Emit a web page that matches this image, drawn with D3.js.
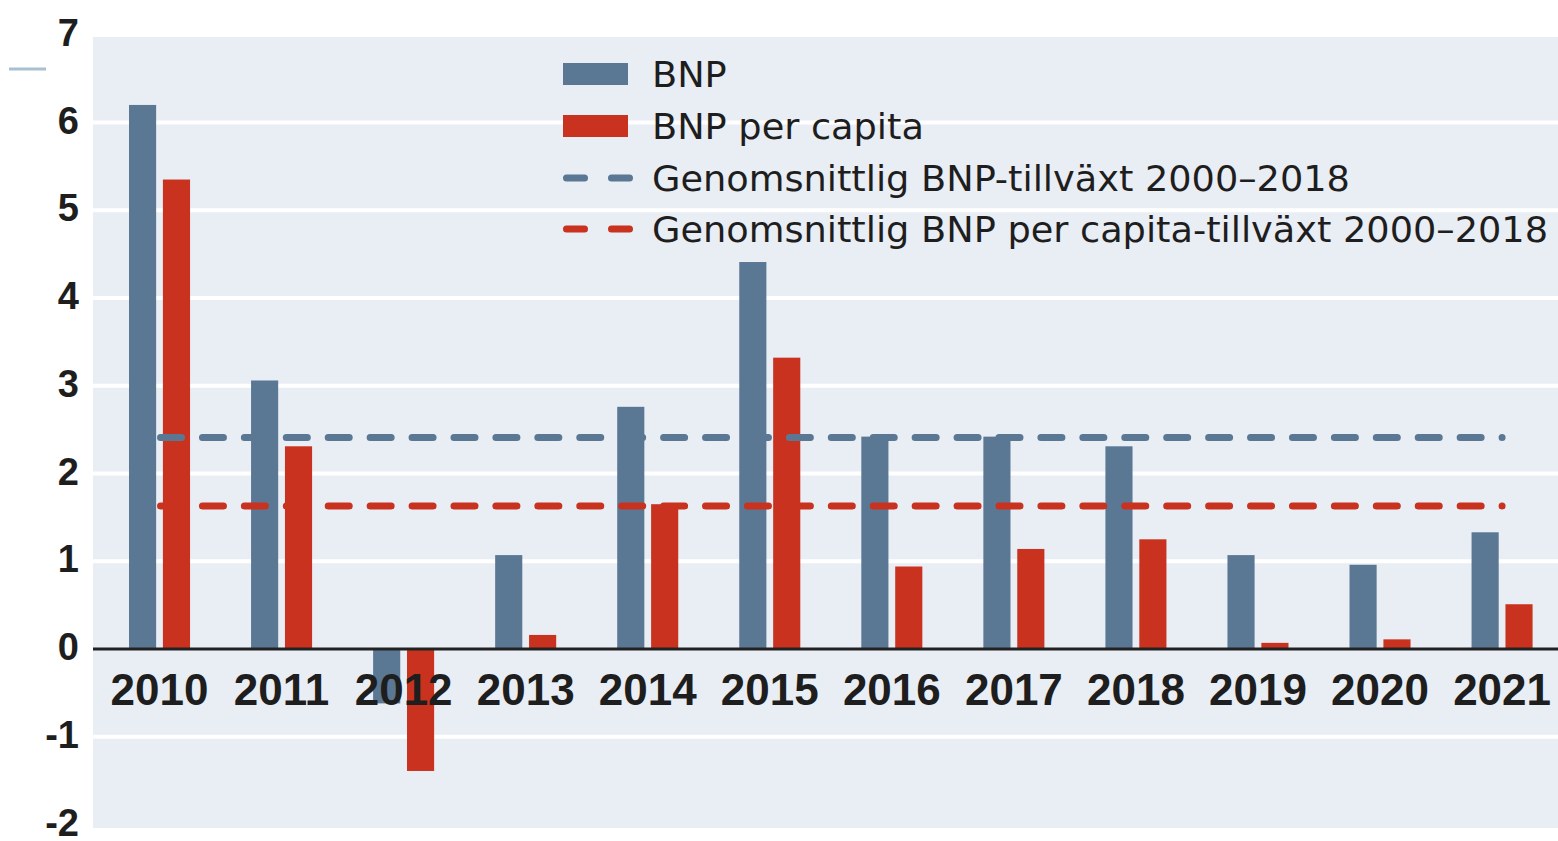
<!DOCTYPE html>
<html>
<head>
<meta charset="utf-8">
<script src="https://cdn.jsdelivr.net/npm/d3@7"></script>
<style>
  html, body { margin: 0; padding: 0; background: #ffffff; }
  svg { display: block; }
</style>
</head>
<body>
<svg id="chart" width="1558" height="841"></svg>
<script>
// ---- Data ----
const years = ["2010","2011","2012","2013","2014","2015","2016","2017","2018","2019","2020","2021"];
const bnp = [6.2, 3.06, -0.62, 1.07, 2.76, 4.41, 2.42, 2.42, 2.31, 1.07, 0.96, 1.33];
const bnpPerCapita = [5.35, 2.31, -1.39, 0.16, 1.65, 3.32, 0.94, 1.14, 1.25, 0.07, 0.11, 0.51];
const avgBnp = 2.41;
const avgBnpPerCapita = 1.63;
const yTicks = [-2, -1, 0, 1, 2, 3, 4, 5, 6, 7];
const seriesNames = ["BNP", "BNP per capita"];
const legendLabels = ["BNP", "BNP per capita", "Genomsnittlig BNP-tillväxt 2000–2018", "Genomsnittlig BNP per capita-tillväxt 2000–2018"];

// ---- Styles ----
const blue = "#5a7794";
const red = "#c8321e";
const bg = "#e9edf4";
const textColor = "#1e1e1e";

const svg = d3.select("#chart");

const y = d3.scaleLinear().domain([0, 7]).range([649, 34.75]);
const x = d3.scaleBand().domain(years).range([98.5, 1563.1]).paddingInner(0.5).paddingOuter(0.25);
const xs = d3.scaleBand().domain(seriesNames).range([0, x.bandwidth()]).paddingInner(0.2);

// small decorative mark top-left
svg.append("line").attr("x1", 9).attr("x2", 46).attr("y1", 69).attr("y2", 69)
  .attr("stroke", "#a9c0d0").attr("stroke-width", 3);

// plot background
svg.append("rect").attr("x", 93).attr("y", 37).attr("width", 1558 - 93).attr("height", 828 - 37).attr("fill", bg);

// gridlines
svg.append("g").selectAll("line")
  .data(yTicks.filter(d => d > -2 && d < 7 && d !== 0))
  .join("line")
  .attr("x1", 93).attr("x2", 1558)
  .attr("y1", d => y(d)).attr("y2", d => y(d))
  .attr("stroke", "#ffffff").attr("stroke-width", 4);

// bars
const rows = years.map((yr, i) => ({ year: yr, values: [
  { name: seriesNames[0], v: bnp[i], c: blue },
  { name: seriesNames[1], v: bnpPerCapita[i], c: red }
]}));

const groups = svg.append("g").selectAll("g").data(rows).join("g")
  .attr("transform", d => `translate(${x(d.year)},0)`);
groups.selectAll("rect").data(d => d.values).join("rect")
  .attr("x", d => xs(d.name))
  .attr("width", xs.bandwidth())
  .attr("y", d => y(Math.max(0, d.v)))
  .attr("height", d => Math.abs(y(d.v) - y(0)))
  .attr("fill", d => d.c);

// average dashed lines (pattern ends on a dot at the last group's centre)
const xStart = x(years[0]) + x.bandwidth() / 2 + 1;
const xEnd = x(years[years.length - 1]) + x.bandwidth() / 2;
const period = (xEnd - xStart) / 32;
[[avgBnp, blue], [avgBnpPerCapita, red]].forEach(([v, c]) => {
  svg.append("line")
    .attr("x1", xStart).attr("x2", xEnd + 0.01)
    .attr("y1", y(v)).attr("y2", y(v))
    .attr("stroke", c).attr("stroke-width", 7)
    .attr("stroke-linecap", "round")
    .attr("stroke-dasharray", `21 ${period - 21}`);
});

// zero line
svg.append("line").attr("x1", 93).attr("x2", 1558).attr("y1", y(0)).attr("y2", y(0))
  .attr("stroke", "#222222").attr("stroke-width", 3);

// x axis labels
const xAxis = svg.append("g").attr("transform", "translate(0,705)")
  .call(d3.axisBottom(x).tickSize(0).tickPadding(0));
xAxis.select(".domain").remove();
xAxis.selectAll("text")
  .attr("dy", 0).attr("y", 0)
  .attr("font-family", "'Liberation Sans', Arial, sans-serif")
  .attr("font-weight", "bold").attr("font-size", 44)
  .attr("fill", textColor);

// y axis labels
const yAxis = svg.append("g").attr("transform", "translate(79,0)")
  .call(d3.axisLeft(y).tickValues(yTicks).tickSize(0).tickPadding(0).tickFormat(d => String(d)));
yAxis.select(".domain").remove();
yAxis.selectAll("text")
  .attr("dy", "0.28em")
  .attr("font-family", "'Liberation Sans', Arial, sans-serif")
  .attr("font-weight", "bold").attr("font-size", 38)
  .attr("fill", textColor);

// legend
const legend = svg.append("g");
const legY = [74, 126, 178, 229];
const legBase = [87, 139, 191, 242];
legend.append("rect").attr("x", 563).attr("y", legY[0] - 11).attr("width", 65).attr("height", 22).attr("fill", blue);
legend.append("rect").attr("x", 563).attr("y", legY[1] - 11).attr("width", 65).attr("height", 22).attr("fill", red);
[[legY[2], blue], [legY[3], red]].forEach(([ly, c]) => {
  legend.append("line").attr("x1", 566.5).attr("x2", 629.5).attr("y1", ly).attr("y2", ly)
    .attr("stroke", c).attr("stroke-width", 7).attr("stroke-linecap", "round")
    .attr("stroke-dasharray", "18 27");
});
const legTexts = legend.selectAll("text.leg").data(legendLabels).join("text")
  .attr("class", "leg")
  .attr("x", 652).attr("y", (d, i) => legBase[i])
  .attr("font-family", "'DejaVu Sans Condensed', 'DejaVu Sans', sans-serif")
  .attr("font-size", 36)
  .attr("fill", textColor)
  .text(d => d);
const lens = legTexts.nodes().map(n => n.getComputedTextLength());
const factor = (1548 - 652) / d3.max(lens);
legTexts.each(function(d, i) {
  d3.select(this).attr("textLength", lens[i] * factor).attr("lengthAdjust", "spacingAndGlyphs");
});
</script>
</body>
</html>
